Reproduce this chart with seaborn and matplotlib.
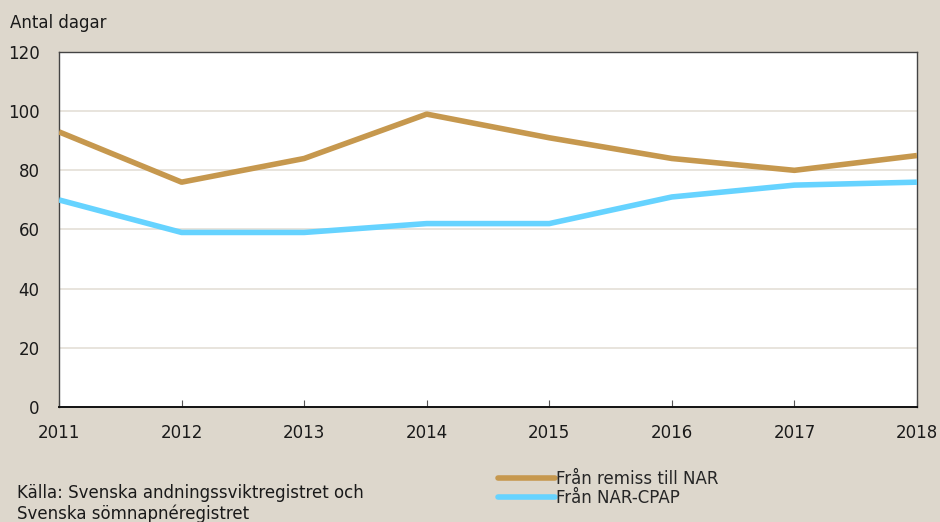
import matplotlib
matplotlib.use("Agg")
import matplotlib.pyplot as plt
import seaborn as sns
import pandas as pd

years = [2011, 2012, 2013, 2014, 2015, 2016, 2017, 2018]
remiss_till_nar = [93, 76, 84, 99, 91, 84, 80, 85]
nar_cpap = [70, 59, 59, 62, 62, 71, 75, 76]
series_names = ["Från remiss till NAR", "Från NAR-CPAP"]
yticks = [0, 20, 40, 60, 80, 100, 120]

bg = "#DDD7CC"
colors = ["#C6984E", "#66D3FF"]

df = pd.DataFrame({
    "År": years * 2,
    "Dagar": remiss_till_nar + nar_cpap,
    "Serie": [series_names[0]] * len(years) + [series_names[1]] * len(years),
})

sns.set_theme(style="white")
plt.rcParams["font.family"] = ["DejaVu Sans"]

fig = plt.figure(figsize=(9.4, 5.22), dpi=100, facecolor=bg)
ax = fig.add_axes([0.0628, 0.2203, 0.9127, 0.6801])
ax.set_facecolor("white")

for y in yticks[1:-1]:
    ax.axhline(y, color="#E4DFD7", lw=1.2, zorder=0)

sns.lineplot(data=df, x="År", y="Dagar", hue="Serie", palette=colors,
             linewidth=4, ax=ax, legend=False, zorder=3)
for ln in ax.lines[-2:]:
    ln.set_solid_capstyle("butt")

ax.set_xlim(2011, 2018)
ax.set_ylim(0, 120)
ax.set_yticks(yticks)
ax.set_xticks(years)
ax.set_xticklabels([str(y) for y in years])
ax.tick_params(axis="x", direction="in", length=5, width=0.8, color="#555555",
               labelsize=12, pad=12, bottom=True)
ax.tick_params(axis="y", length=0, labelsize=12, pad=14)
for lab in ax.get_xticklabels() + ax.get_yticklabels():
    lab.set_color("#1a1a1a")
ax.set_xlabel("")
ax.set_ylabel("")

for side in ["left", "right", "top"]:
    ax.spines[side].set_color("#444444")
    ax.spines[side].set_linewidth(1.0)
ax.spines["bottom"].set_color("#111111")
ax.spines["bottom"].set_linewidth(1.4)

fig.text(0.011, 0.955, "Antal dagar", fontsize=12, color="#1a1a1a", ha="left", va="center")
fig.text(0.018, 0.035, "Källa: Svenska andningssviktregistret och\nSvenska sömnapnéregistret",
         fontsize=12, color="#1a1a1a", ha="left", va="center", linespacing=1.2)

handles = [plt.Line2D([], [], color=c, lw=4, solid_capstyle="round") for c in colors]
fig.legend(handles, series_names, loc="center left", bbox_to_anchor=(0.530, 0.064),
           frameon=False, fontsize=12, handlelength=3.4, handletextpad=0.05,
           labelspacing=0.05, borderpad=0, borderaxespad=0)

fig.savefig("out.png", dpi=100, facecolor=bg)
